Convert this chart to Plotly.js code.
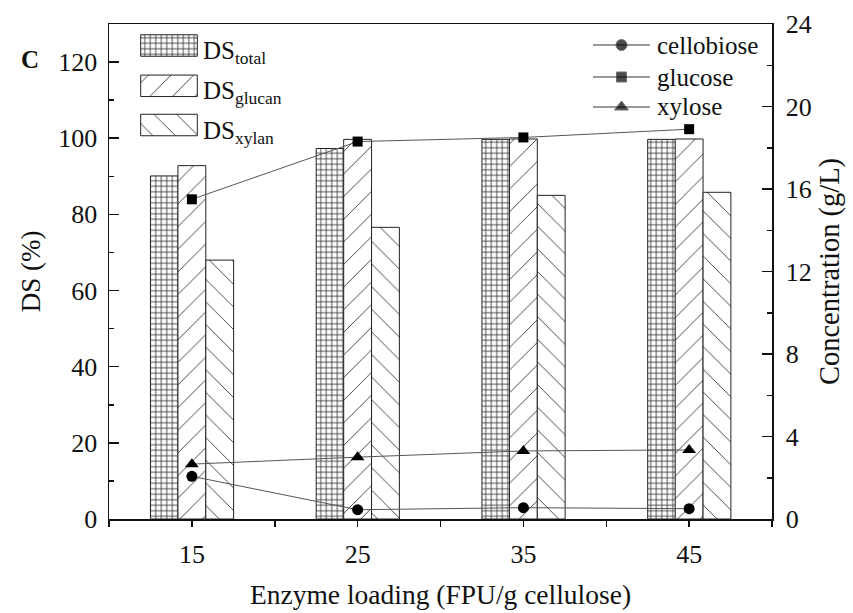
<!DOCTYPE html>
<html>
<head>
<meta charset="utf-8">
<script src="https://cdn.plot.ly/plotly-3.0.1.min.js"></script>
<style>html,body{margin:0;padding:0;background:#fff}#chart{width:853px;height:613px}</style>
</head>
<body>
<div id="chart"></div>
<script>
// ---- data ----
var loading = [15, 25, 35, 45];
var xTickVals = [15, 25, 35, 45];
var xTickText = ['15', '25', '35', '45'];
var dsTotal = [90.1, 97.3, 99.7, 99.7];
var dsGlucan = [92.8, 99.7, 99.8, 99.8];
var dsXylan = [68.0, 76.6, 85.0, 85.8];
var cellobiose = [2.07, 0.45, 0.55, 0.5];
var glucose = [15.5, 18.3, 18.5, 18.9];
var xylose = [2.66, 3.0, 3.3, 3.35];
var barNames = ['DS<sub>total</sub>', 'DS<sub>glucan</sub>', 'DS<sub>xylan</sub>'];
var lineNames = ['cellobiose', 'glucose', 'xylose'];

// ---- layout geometry (pixels) ----
var W = 853, H = 613, ML = 109, MR = 81, MT = 24, MB = 94;
var PW = W - ML - MR, PH = H - MT - MB;
function fx(px) { return (px - ML) / PW; }
function fy(py) { return (H - MB - py) / PH; }

var FONT = 'Liberation Serif';
var INK = '#111';
var barW = 1.68;
var patFg = '#444';

function pattern(shape) {
  if (shape === '+') return { shape: '+', size: 5.5, solidity: 0.28, fgcolor: '#333', bgcolor: '#fff', fillmode: 'replace' };
  return { shape: shape, size: 16, solidity: 0.06, fgcolor: patFg, bgcolor: '#fff', fillmode: 'replace' };
}
function barTrace(y, name, shape, offset) {
  return {
    type: 'bar', x: loading, y: y, name: name, width: barW, offset: offset,
    marker: { color: '#fff', line: { color: '#222', width: 1 }, pattern: pattern(shape) },
    showlegend: false, xaxis: 'x', yaxis: 'y'
  };
}
function lineTrace(y, name, sym, size) {
  return {
    type: 'scatter', mode: 'lines+markers', x: loading, y: y, name: name,
    line: { color: '#555', width: 1 }, marker: { symbol: sym, size: size, color: '#000' },
    showlegend: false, xaxis: 'x', yaxis: 'y2', cliponaxis: false
  };
}

var traces = [
  barTrace(dsTotal, barNames[0], '+', -2.5),
  barTrace(dsGlucan, barNames[1], '/', -0.84),
  barTrace(dsXylan, barNames[2], '\\', 0.84),
  lineTrace(cellobiose, lineNames[0], 'circle', 11),
  lineTrace(glucose, lineNames[1], 'square', 10),
  lineTrace(xylose, lineNames[2], 'triangle-up', 12)
];

// ---- custom legend (swatches on a hidden overlay axis spanning plot area) ----
var barShapes = ['+', '/', '\\'];
var barSwY = [45.5, 85.8, 125];
var swH = 21.5 / PH;
var annotations = [];
for (var i = 0; i < 3; i++) {
  traces.push({
    type: 'bar', orientation: 'h', x: [fx(197.3) - fx(140.7)], base: [fx(140.7)], y: [fy(barSwY[i])],
    width: swH, xaxis: 'x3', yaxis: 'y3', showlegend: false, hoverinfo: 'skip',
    marker: { color: '#fff', line: { color: '#222', width: 1 }, pattern: pattern(barShapes[i]) }
  });
  annotations.push({ xref: 'paper', yref: 'paper', x: fx(201), y: fy(barSwY[i] + 7), xanchor: 'left', yanchor: 'middle',
    text: barNames[i], showarrow: false, font: { family: FONT, size: 25, color: INK } });
}
var lineSyms = [['circle', 11], ['square', 10], ['triangle-up', 12]];
var lineSwY = [45, 77, 107];
for (var j = 0; j < 3; j++) {
  traces.push({
    type: 'scatter', mode: 'lines+markers', x: [fx(593), fx(621.5), fx(650)], y: [fy(lineSwY[j]), fy(lineSwY[j]), fy(lineSwY[j])],
    xaxis: 'x3', yaxis: 'y3', showlegend: false, hoverinfo: 'skip',
    line: { color: '#333', width: 1 }, marker: { symbol: lineSyms[j][0], size: [0, lineSyms[j][1], 0], color: '#000' }
  });
  annotations.push({ xref: 'paper', yref: 'paper', x: fx(655), y: fy(lineSwY[j]), xanchor: 'left', yanchor: 'middle',
    text: lineNames[j], showarrow: false, font: { family: FONT, size: 25, color: INK } });
}
annotations.push({ xref: 'paper', yref: 'paper', x: fx(30), y: fy(59), xanchor: 'center', yanchor: 'middle',
  text: '<b>C</b>', showarrow: false, font: { family: FONT, size: 25, color: INK } });

var tickFont = { family: FONT, size: 26, color: INK };
var layout = {
  width: W, height: H,
  margin: { l: ML, r: MR, t: MT, b: MB, pad: 0 },
  paper_bgcolor: '#fff', plot_bgcolor: '#fff',
  barmode: 'overlay', showlegend: false,
  font: { family: FONT, size: 25, color: INK },
  xaxis: {
    range: [10, 50], tickmode: 'array', tickvals: xTickVals, ticktext: xTickText,
    ticks: 'outside', ticklen: 6, tickwidth: 1.5, tickcolor: '#111',
    minor: { tickvals: [10, 20, 30, 40, 50], ticks: 'outside', ticklen: 6, tickwidth: 1.5, tickcolor: '#111', showgrid: false },
    showline: true, linecolor: '#111', linewidth: 1.5, mirror: true,
    showgrid: false, zeroline: false, tickfont: tickFont, ticklabelstandoff: 5,
    title: { text: 'Enzyme loading (FPU/g cellulose)', font: { family: FONT, size: 27.5, color: INK }, standoff: 17 }
  },
  yaxis: {
    range: [0, 130], tickmode: 'array', tickvals: [0, 20, 40, 60, 80, 100, 120],
    ticks: 'inside', ticklen: 10, tickwidth: 1.5, tickcolor: '#111',
    minor: { tickvals: [10, 30, 50, 70, 90, 110, 130], ticks: 'inside', ticklen: 5, tickwidth: 1.5, tickcolor: '#111', showgrid: false },
    showline: true, linecolor: '#111', linewidth: 1.5,
    showgrid: false, zeroline: false, tickfont: tickFont, ticklabelstandoff: 5,
    title: { text: 'DS (%)', font: { family: FONT, size: 27, color: INK }, standoff: 10 }
  },
  yaxis2: {
    overlaying: 'y', side: 'right', range: [0, 24], tickmode: 'array', tickvals: [0, 4, 8, 12, 16, 20, 24],
    ticks: 'inside', ticklen: 10, tickwidth: 1.5, tickcolor: '#111',
    minor: { tickvals: [2, 6, 10, 14, 18, 22], ticks: 'inside', ticklen: 5, tickwidth: 1.5, tickcolor: '#111', showgrid: false },
    showline: true, linecolor: '#111', linewidth: 1.5,
    showgrid: false, zeroline: false, tickfont: tickFont, ticklabelstandoff: 7,
    title: { text: 'Concentration (g/L)', font: { family: FONT, size: 28.5, color: INK }, standoff: 8 }
  },
  xaxis3: { domain: [0, 1], range: [0, 1], overlaying: 'x', anchor: 'y3', visible: false, fixedrange: true },
  yaxis3: { domain: [0, 1], range: [0, 1], overlaying: 'y', anchor: 'x3', visible: false, fixedrange: true },
  annotations: annotations
};

Plotly.newPlot('chart', traces, layout, { displayModeBar: false, staticPlot: true }).then(function (gd) {
  // drop empty placeholder text nodes Plotly leaves behind
  var texts = gd.querySelectorAll('text');
  for (var k = 0; k < texts.length; k++) {
    if (!texts[k].textContent || !texts[k].textContent.trim()) texts[k].parentNode.removeChild(texts[k]);
  }
});
</script>
</body>
</html>
